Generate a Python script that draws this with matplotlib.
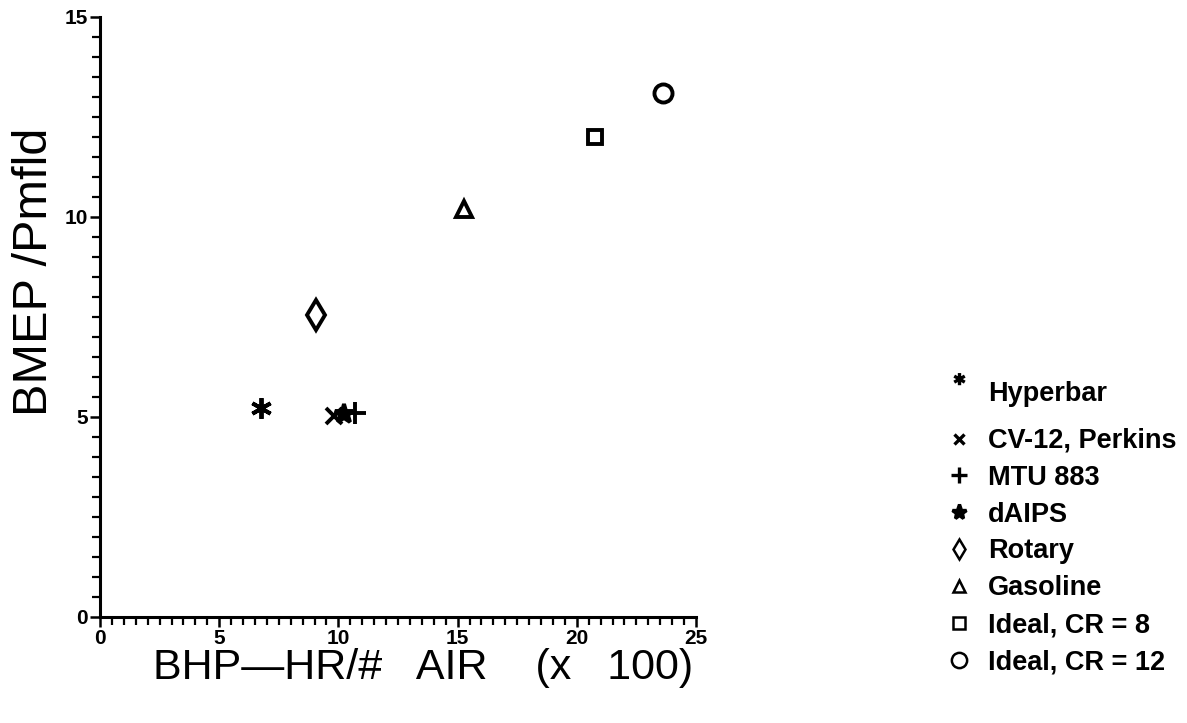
import numpy as np
import matplotlib
matplotlib.use('Agg')
import matplotlib.pyplot as plt
from matplotlib.lines import Line2D
from matplotlib.path import Path
from matplotlib.ticker import MultipleLocator

plt.rcParams['font.family'] = ['Liberation Sans', 'DejaVu Sans']

# engine data
labels = ['Hyperbar', 'CV-12, Perkins', 'MTU 883', 'dAIPS', 'Rotary',
          'Gasoline', 'Ideal, CR = 8', 'Ideal, CR = 12']
bhp_hr_air = [6.75, 9.8, 10.7, 10.25, 9.05, 15.25, 20.75, 23.6]
bmep_ratio = [5.22, 5.03, 5.1, 5.08, 7.55, 10.2, 12.0, 13.1]


def raised_asterisk(cy=1.1, r=0.5):
    # six-armed asterisk sitting above the marker centre (superscript look)
    verts, codes = [], []
    for a in np.deg2rad([90, 30, 150]):
        dx, dy = r * np.cos(a), r * np.sin(a)
        verts += [(-dx, cy - dy), (dx, cy + dy)]
        codes += [Path.MOVETO, Path.LINETO]
    return Path(verts, codes)


# marker styles: (marker, size, filled)
styles = [((6, 2, 0), 15, True), ('x', 12, True), ('+', 16, True),
          ('*', 14, True), ('d', 15, False), ('^', 12, False),
          ('s', 10, False), ('o', 13, False)]
leg_styles = [(raised_asterisk(), 28, True), ('x', 7, True), ('+', 11, True),
              ('*', 11, True), ('d', 10, False), ('^', 8, False),
              ('s', 8, False), ('o', 11, False)]

fig = plt.figure(figsize=(11.87, 7.23), dpi=100)
ax = fig.add_axes([100 / 1187, 1 - 617 / 723, 596 / 1187, 600 / 723])

for x, y, (m, s, filled) in zip(bhp_hr_air, bmep_ratio, styles):
    if filled:
        ax.plot(x, y, marker=m, markersize=s, color='black', mew=2.8,
                linestyle='none', clip_on=False)
    else:
        ax.plot(x, y, marker=m, markersize=s, markerfacecolor='none',
                markeredgecolor='black', mew=2.8, linestyle='none',
                clip_on=False)

ax.set_xlim(0, 25)
ax.set_ylim(0, 15)
ax.xaxis.set_major_locator(MultipleLocator(5))
ax.xaxis.set_minor_locator(MultipleLocator(0.5))
ax.yaxis.set_major_locator(MultipleLocator(5))
ax.yaxis.set_minor_locator(MultipleLocator(0.5))

for side in ['top', 'right']:
    ax.spines[side].set_visible(False)
for side in ['left', 'bottom']:
    ax.spines[side].set_linewidth(2.2)

ax.tick_params(which='major', length=7, width=1.8, direction='out', pad=1.5,
               labelsize=15)
ax.tick_params(which='minor', length=6, width=1.6, direction='out')
for t in ax.get_xticklabels() + ax.get_yticklabels():
    t.set_fontweight('bold')

ax.set_xlabel('BHP\u2014HR/#   AIR    (x   100)', fontsize=31)
ax.xaxis.set_label_coords(0.542, -0.052)
ax.set_ylabel('BMEP /Pmfld', fontsize=35)
ax.yaxis.set_label_coords(-0.072, 0.575)

handles = []
for (m, s, filled) in leg_styles:
    if filled:
        h = Line2D([], [], marker=m, markersize=s, color='black', mew=2.4,
                   linestyle='none')
    else:
        h = Line2D([], [], marker=m, markersize=s, markerfacecolor='none',
                   markeredgecolor='black', mew=1.8, linestyle='none')
    handles.append(h)

leg_kw = dict(loc='upper left', frameon=False,
              prop={'weight': 'bold', 'size': 19.5},
              handlelength=1.0, handletextpad=0.6, labelspacing=0.4,
              borderpad=0, borderaxespad=0)
fig.legend(handles[:1], labels[:1],
           bbox_to_anchor=(945 / 1187, 1 - 381 / 723), **leg_kw)
fig.legend(handles[1:], labels[1:],
           bbox_to_anchor=(945 / 1187, 1 - 428 / 723), **leg_kw)

fig.savefig('out.png', dpi=100)
